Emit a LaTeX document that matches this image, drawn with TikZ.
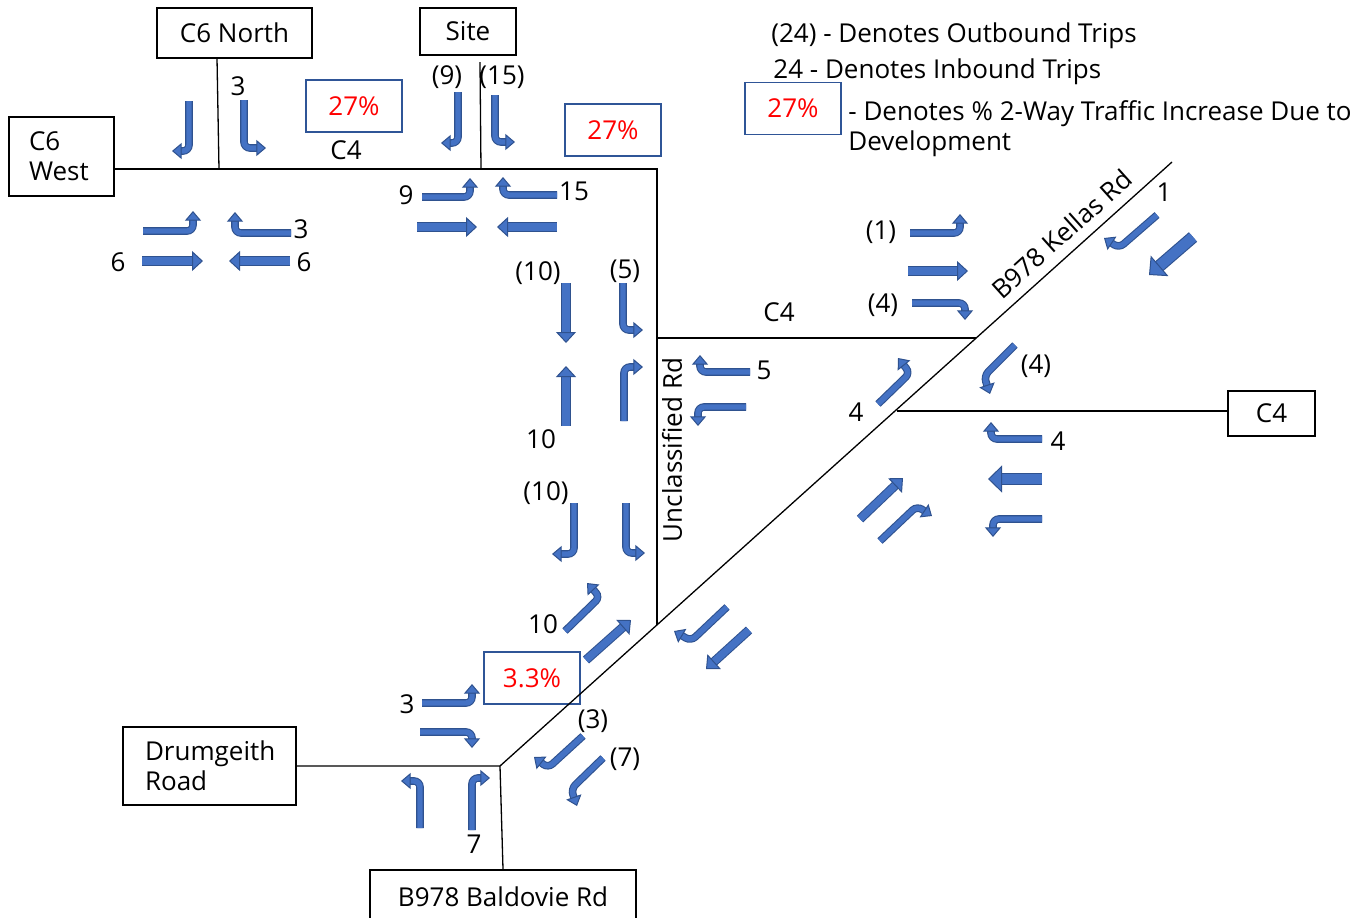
\documentclass[tikz,border=0pt]{standalone}
\usepackage{fontspec}
\setmainfont{Open Sans}
\usetikzlibrary{arrows.meta}
\definecolor{arrowfill}{HTML}{4472C4}
\definecolor{arrowedge}{HTML}{2F528F}
\definecolor{pctedge}{HTML}{2F5597}
\tikzset{
  place/.style={rectangle,draw,line width=1pt,inner sep=0pt,align=center},
  pct/.style={rectangle,draw=pctedge,line width=0.75pt,text=red,minimum width=48pt,minimum height=26pt,inner sep=0pt},
  road/.style={line width=0.65pt},
  lbl/.style={inner sep=0pt},
  turn/.style={draw=arrowfill,line width=2.7pt,rounded corners=3pt,
    -{Triangle[length=4.8pt,width=8pt,line width=0.5pt,fill=arrowfill,color=arrowedge]},
    preaction={draw=arrowedge,line width=3.8pt,-,shorten >=3.6pt}},
  ahead/.style={draw=arrowfill,line width=3.6pt,
    -{Triangle[length=5.5pt,width=10pt,line width=0.5pt,fill=arrowfill,color=arrowedge]},
    preaction={draw=arrowedge,line width=4.6pt,-,shorten >=4.5pt}},
  bigahead/.style={draw=arrowfill,line width=5.2pt,
    -{Triangle[length=7pt,width=13.5pt,line width=0.5pt,fill=arrowfill,color=arrowedge]},
    preaction={draw=arrowedge,line width=6.3pt,-,shorten >=6pt}}
}

\begin{document}
\begin{tikzpicture}[x=0.5pt,y=-0.5pt,font=\fontsize{13}{15}\selectfont]
\useasboundingbox (0,0) rectangle (1367,917);

% named places
\node[place,minimum width=77.5pt,minimum height=25pt] (cnorth) at (234.5,33) {C6 North};
\node[place,minimum width=48pt,minimum height=23.5pt] (site) at (468,31.5) {Site};
\node[place,minimum height=39.5pt,text width=32.5pt,inner xsep=10pt,align=left] (cwest) at (61.5,156.5) {C6\\West};
\node[place,minimum width=43.5pt,minimum height=22.5pt] (ceast) at (1271.5,413.5) {C4};
\node[place,minimum height=39pt,text width=64.5pt,inner xsep=11pt,align=left] (drum) at (209.5,766) {Drumgeith\\Road};
\node[place,minimum width=133pt,minimum height=27pt] (bald) at (503,897) {B978 Baldovie Rd};

% percentage boxes
\node[pct] (pc1) at (354,106) {27\%};
\node[pct] (pc2) at (613,130) {27\%};
\node[pct] (pc3) at (532,678) {3.3\%};

% road network
\coordinate (nj) at (219,169);
\coordinate (ntop) at (217,58);
\coordinate (sj) at (481,169);
\coordinate (stop) at (480,62);
\coordinate (ne) at (657,169);
\coordinate (bj) at (657,338);
\coordinate (uj) at (657,625);
\coordinate (kj) at (976,338);
\coordinate (dj) at (500,766);
\coordinate (ktop) at (1172,162);
\coordinate (ej) at (897,411);
\draw[road] (cwest.east |- nj) -- (ne) -- (uj);
\draw[road] (ntop) -- (nj);
\draw[road] (stop) -- (sj);
\draw[road] (bj) -- (kj);
\draw[road] (dj) -- (ktop) node[lbl,pos=0.856,sloped,above=4.8pt] {B978 Kellas Rd};
\draw[road] (ej) -- (ej -| ceast.west);
\draw[road] (drum.east |- dj) -- (dj) -- (bald.north);
\node[lbl] (c4a) at (346,150) {C4};
\node[lbl] (c4b) at (779,312) {C4};
\node[lbl,rotate=90] (unc) at (672,450) {Unclassified Rd};

% C6 junction
\draw[turn] (189,101) -- (189,151) -- (172,151);
\draw[turn] (244,100) -- (244,148) -- (266,148);
\draw[turn] (143,231) -- (193,231) -- (193,211);
\draw[turn] (291,233) -- (235,233) -- (235,212);
\draw[ahead] (142,261) -- (203,261);
\draw[ahead] (290,261) -- (229,261);
\node[lbl] (t1) at (238,86) {3};
\node[lbl] (t2) at (301,229) {3};
\node[lbl] (t3) at (118,262) {6};
\node[lbl] (t4) at (304,262) {6};

% site access
\draw[turn] (458,92) -- (458,143) -- (441,143);
\draw[turn] (495,95) -- (495,142) -- (515,142);
\draw[turn] (422,197) -- (470,197) -- (470,178);
\draw[turn] (557,195) -- (503,195) -- (503,177);
\draw[ahead] (417,227) -- (477,227);
\draw[ahead] (557,227) -- (497,227);
\node[lbl] (s1) at (447,77) {(9)};
\node[lbl] (s2) at (502,77) {(15)};
\node[lbl] (s3) at (406,195) {9};
\node[lbl] (s4) at (574,191) {15};

% unclassified rd / C4 branch
\draw[ahead] (566,283) -- (566,343);
\draw[turn] (623,283) -- (623,330) -- (643,330);
\draw[ahead] (566,426) -- (566,366);
\draw[turn] (624,421) -- (624,367) -- (643,367);
\draw[turn] (750,372) -- (700,372) -- (700,355);
\draw[turn] (746,407) -- (698,407) -- (698,426);
\node[lbl] (u1) at (538,273) {(10)};
\node[lbl] (u2) at (625,271) {(5)};
\node[lbl] (u3) at (541,439) {10};
\node[lbl] (u4) at (764,370) {5};

% unclassified rd / kellas rd
\draw[turn] (574,503) -- (574,554) -- (552,554);
\draw[turn] (626,503) -- (626,553) -- (645,553);
\draw[turn] (565,631) -- (600,597) -- (587,583);
\draw[ahead] (586,660) -- (631,620);
\draw[turn] (727,607) -- (691,641) -- (674,631);
\draw[ahead] (749,630) -- (706,669);
\node[lbl] (k1) at (546,493) {(10)};
\node[lbl] (k2) at (543,624) {10};

% drumgeith junction
\draw[turn] (422,703) -- (472,703) -- (472,684);
\draw[turn] (420,732) -- (472,732) -- (472,748);
\draw[turn] (420,828) -- (420,781) -- (401,781);
\draw[turn] (472,830) -- (472,778) -- (490,778);
\draw[turn] (583,736) -- (548,768) -- (534,757);
\draw[turn] (603,758) -- (571,789) -- (577,806);
\node[lbl] (d1) at (407,704) {3};
\node[lbl] (d2) at (593,721) {(3)};
\node[lbl] (d3) at (625,759) {(7)};
\node[lbl] (d4) at (474,844) {7};

% kellas rd / C4 north
\draw[turn] (910,233) -- (960,233) -- (960,214);
\draw[ahead] (908,271) -- (968,271);
\draw[turn] (912,303) -- (965,303) -- (965,320);
\draw[turn] (1157,215) -- (1119,248) -- (1104,238);
\draw[bigahead] (1193,237) -- (1149,275);
\node[lbl] (e1) at (881,232) {(1)};
\node[lbl] (e2) at (883,305) {(4)};
\node[lbl] (e3) at (1164,192) {1};

% kellas rd / C4 east
\draw[turn] (878,404) -- (910,373) -- (898,358);
\draw[turn] (1015,345) -- (984,376) -- (990,394);
\draw[turn] (1042,439) -- (991,439) -- (991,422);
\draw[bigahead] (1042,479) -- (988,479);
\draw[turn] (1042,519) -- (993,519) -- (993,537);
\draw[ahead] (860,519) -- (903,478);
\draw[turn] (880,541) -- (917,506) -- (932,516);
\node[lbl] (f1) at (856,412) {4};
\node[lbl] (f2) at (1036,366) {(4)};
\node[lbl] (f3) at (1058,441) {4};

% key
\node[lbl,anchor=west] (key1) at (771,36) {(24) - Denotes Outbound Trips};
\node[lbl,anchor=west] (key2) at (773,72) {24 - Denotes Inbound Trips};
\node[pct] (pc4) at (793,108.5) {27\%};
\node[lbl,anchor=north west,align=left] (key3) at (848,100) {- Denotes \% 2-Way Traffic Increase Due to\\Development};
\end{tikzpicture}
\end{document}
